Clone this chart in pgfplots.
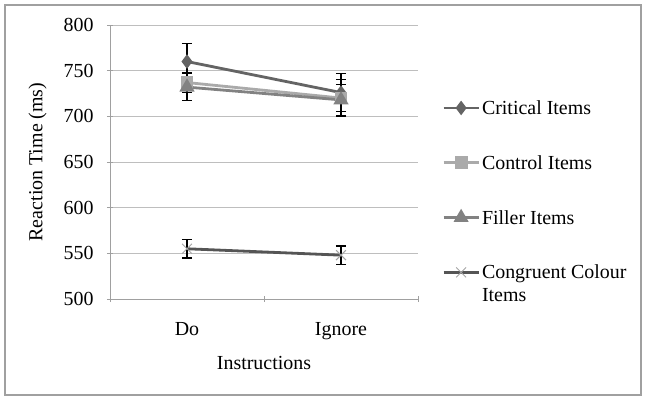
\documentclass[border=0pt]{standalone}
\usepackage{fontspec}
\setmainfont{Liberation Serif}
\usepackage{pgfplots}
\pgfplotsset{compat=1.18}
\definecolor{critc}{RGB}{100,100,100}
\definecolor{ctrlc}{RGB}{170,170,170}
\definecolor{fillc}{RGB}{130,130,130}
\definecolor{congc}{RGB}{85,85,85}
\definecolor{congm}{RGB}{165,165,165}
\definecolor{gridc}{RGB}{190,190,190}
\definecolor{framec}{RGB}{160,160,160}

\begin{document}
\begin{tikzpicture}
\useasboundingbox (-110bp,-102bp) rectangle (538bp,299bp);
\begin{axis}[
    scale only axis,
    width=308bp, height=274bp,
    font=\fontsize{20}{23}\selectfont,
    /pgf/number format/assume math mode=true,
    xmin=-0.5, xmax=1.5,
    ymin=500, ymax=800,
    ytick={500,550,...,800},
    xtick={-0.5,0.5,1.5},
    xticklabels={},
    extra x ticks={0,1},
    extra x tick labels={Do,Ignore},
    extra x tick style={major tick length=0pt, xticklabel style={yshift=-20bp}},
    tick align=outside,
    major tick length=6bp,
    tick style={color=framec, line width=0.8bp},
    ymajorgrids,
    grid style={color=gridc, line width=0.9bp},
    axis lines=left,
    axis line style={-, color=framec, line width=0.9bp},
    yticklabel style={xshift=-10bp},
    xlabel={Instructions},
    ylabel={Reaction Time (ms)},
    xlabel style={at={(axis description cs:0.5,-0.234)}, anchor=center},
    ylabel style={at={(axis description cs:-0.235,0.5)}, anchor=center},
    legend image code/.code={\draw[yshift=6.5bp, mark repeat=2,mark phase=2] plot coordinates {(0bp,0bp)(17.5bp,0bp)(35bp,0bp)};},
    legend style={at={(axis description cs:1.078,0.732)}, anchor=north west,
        draw=none, fill=none, row sep=35.5bp, inner sep=0pt,
        cells={anchor=base west},
        font=\fontsize{20}{23}\selectfont},
    error bars/y dir=both,
    error bars/y explicit,
    error bars/error bar style={black, line width=1.3bp},
    error bars/error mark options={rotate=90, mark size=5bp, line width=1.3bp, black},
]
\addplot[color=critc, line width=2.8bp, mark=diamond*, mark size=5bp, mark options={fill=critc, solid}]
  coordinates {(0,760) +- (0,20) (1,726) +- (0,21)};
\addlegendentry{Critical Items}
\addplot[color=ctrlc, line width=2.8bp, mark=square*, mark size=5bp, mark options={fill=ctrlc, solid}]
  coordinates {(0,737) +- (0,11) (1,720) +- (0,20)};
\addlegendentry{Control Items}
\addplot[color=fillc, line width=2.8bp, mark=triangle*, mark size=6bp, mark options={fill=fillc, solid}]
  coordinates {(0,732) +- (0,15) (1,718) +- (0,17)};
\addlegendentry{Filler Items}
\addplot[color=congc, line width=2.8bp, mark=x, mark size=7bp, mark options={draw=congm, line width=1bp}]
  coordinates {(0,555) +- (0,10) (1,548) +- (0,10)};
\addlegendentry{\vtop{\hbox{Congruent Colour}\hbox{Items}}}
\end{axis}
\draw[framec, line width=1.2bp] (-105bp,-96bp) rectangle (531bp,294bp);
\end{tikzpicture}
\end{document}
